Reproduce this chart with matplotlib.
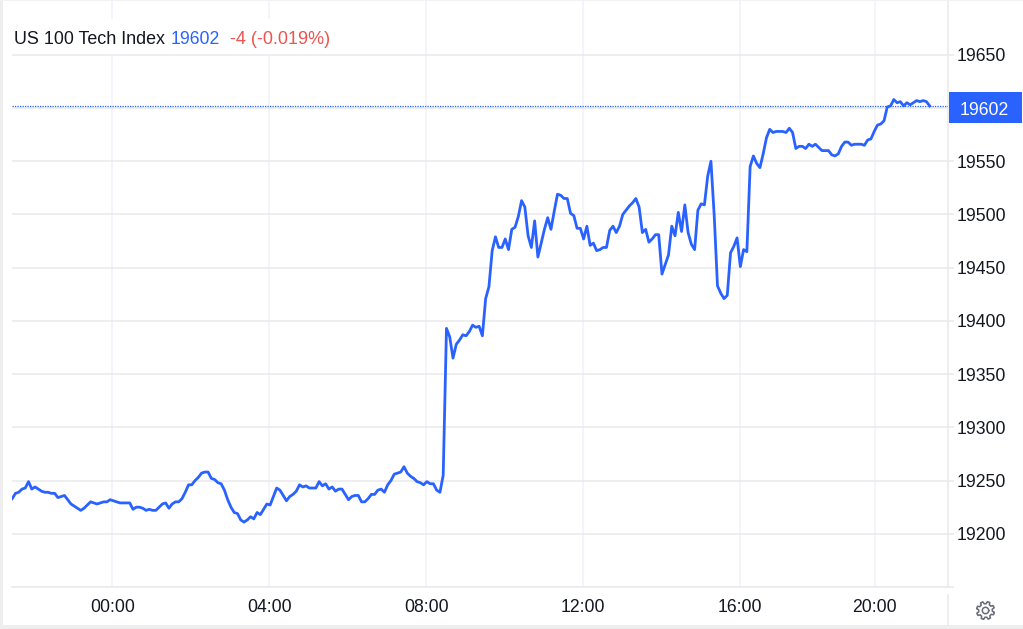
import numpy as np
import matplotlib
matplotlib.use("Agg")
import matplotlib.pyplot as plt
from matplotlib.patches import Rectangle, Polygon

plt.rcParams["font.family"] = ["Liberation Sans", "DejaVu Sans"]

# --------------------------
# DATA (5 minute closes)
# --------------------------
prices = [
    19233, 19238, 19239, 19242, 19243, 19249, 19242, 19244, 19242, 19240,
    19239, 19239, 19238, 19238, 19234, 19235, 19236, 19232, 19228, 19226,
    19224, 19222, 19224, 19227, 19230, 19229, 19228, 19229, 19230, 19230,
    19232, 19231, 19230, 19229, 19229, 19229, 19229, 19223, 19225, 19225,
    19224, 19222, 19223, 19222, 19222, 19225, 19228, 19229, 19224, 19228,
    19230, 19230, 19233, 19239, 19246, 19246, 19250, 19253, 19257, 19258,
    19258, 19252, 19251, 19248, 19247, 19241, 19232, 19225, 19220, 19219,
    19213, 19211, 19213, 19216, 19214, 19220, 19218, 19223, 19228, 19227,
    19235, 19243, 19241, 19236, 19231, 19235, 19237, 19240, 19246, 19244,
    19245, 19243, 19243, 19243, 19249, 19245, 19247, 19242, 19244, 19240,
    19242, 19242, 19237, 19232, 19235, 19236, 19236, 19230, 19230, 19233,
    19237, 19237, 19241, 19242, 19239, 19246, 19250, 19256, 19257, 19258,
    19263, 19257, 19254, 19252, 19249, 19248, 19246, 19249, 19247, 19247,
    19241, 19239, 19255, 19393, 19385, 19365, 19378, 19382, 19387, 19386,
    19390, 19396, 19394, 19395, 19386, 19421, 19432, 19466, 19479, 19469,
    19469, 19477, 19467, 19486, 19488, 19498, 19513, 19507, 19480, 19469,
    19494, 19460, 19473, 19486, 19497, 19486, 19503, 19519, 19518, 19515,
    19515, 19501, 19499, 19487, 19487, 19477, 19489, 19471, 19473, 19466,
    19467, 19469, 19469, 19485, 19489, 19483, 19489, 19500, 19504, 19508,
    19511, 19515, 19507, 19483, 19486, 19474, 19477, 19481, 19481, 19444,
    19453, 19462, 19489, 19480, 19502, 19484, 19509, 19483, 19472, 19467,
    19504, 19510, 19509, 19536, 19550, 19499, 19433, 19426, 19421, 19424,
    19464, 19470, 19478, 19451, 19467, 19465, 19545, 19555, 19548, 19544,
    19557, 19572, 19580, 19577, 19578, 19578, 19578, 19577, 19581, 19577,
    19562, 19564, 19564, 19562, 19566, 19564, 19566, 19563, 19560, 19560,
    19560, 19556, 19555, 19557, 19564, 19568, 19568, 19565, 19566, 19566,
    19566, 19565, 19570, 19571, 19578, 19584, 19585, 19588, 19601, 19602,
    19608, 19605, 19606, 19602, 19605, 19603, 19605, 19607, 19606, 19607,
    19606, 19602,
]
time_labels = ["00:00", "04:00", "08:00", "12:00", "16:00", "20:00"]
time_ticks = [30.66, 78.7, 126.8, 174.8, 222.9, 264.1]
price_ticks = [19150, 19200, 19250, 19300, 19350, 19400, 19450, 19500, 19550, 19600, 19650]
price_labels = ["", "19200", "19250", "19300", "19350", "19400", "19450", "19500", "19550", "", "19650"]
last_price = 19602

W, H = 1023, 629
BLUE = "#2962ff"
INK = "#131722"
HGRID = "#e9e9ec"
VGRID = "#f0f3fa"


def fx(px):
    return px / W


def fy(py):
    return 1 - py / H


fig = plt.figure(figsize=(W / 100, H / 100), dpi=100, facecolor="white")
ax = fig.add_axes([fx(12), fy(587), fx(948) - fx(12), fy(0) - fy(587)])

x = np.arange(len(prices))
ax.plot(x, prices, color=BLUE, lw=2.0, solid_joinstyle="round", zorder=4)
ax.axhline(last_price, color=BLUE, lw=0.9, ls=(0, (1, 1)), zorder=3)

ax.set_xlim(-0.06, 286.6)
ax.set_ylim(19150, 19701.5)

ax.set_xticks(time_ticks, time_labels)
ax.set_yticks(price_ticks, price_labels)
ax.yaxis.tick_right()
ax.grid(axis="x", color=VGRID, lw=1.1, zorder=0)
ax.grid(axis="y", color=HGRID, lw=1.1, zorder=0)
ax.tick_params(axis="y", length=4, width=1.1, color=HGRID, pad=2, labelsize=12.7, labelcolor=INK)
ax.tick_params(axis="x", length=0, pad=9, labelsize=12.7, labelcolor=INK)
for side in ["top", "left"]:
    ax.spines[side].set_visible(False)
ax.spines["bottom"].set_color(HGRID)
ax.spines["bottom"].set_linewidth(1.1)
ax.spines["right"].set_color(HGRID)
ax.spines["right"].set_linewidth(1.1)

# outer frame and bits of the price scale
fig.add_artist(Rectangle((0, 0), fx(2.5), 1, transform=fig.transFigure, color="#eeeeee", lw=0))
fig.add_artist(Rectangle((0, 0), 1, fy(625), transform=fig.transFigure, color="#eeeeee", lw=0))
fig.add_artist(Rectangle((0, fy(1)), 1, 1 - fy(1), transform=fig.transFigure, color="#f2f2f2", lw=0))
fig.add_artist(plt.Line2D([fx(948.3)] * 2, [fy(595), fy(625)], color=HGRID, lw=1.1))

# last price tag
fig.add_artist(Rectangle((fx(949), fy(123)), fx(73), fy(92) - fy(123), transform=fig.transFigure, color=BLUE, lw=0))
fig.text(fx(984.5), fy(115), str(last_price), color="white", fontsize=12.7, ha="center", va="baseline")

# legend line on top
fig.add_artist(Rectangle((fx(12), fy(54)), fx(320), fy(19) - fy(54), transform=fig.transFigure, color="white", lw=0, zorder=1))
fig.text(fx(14.5), fy(43.5), "US 100 Tech Index", color=INK, fontsize=12.9, va="baseline", zorder=5)
fig.text(fx(171), fy(43.5), str(last_price), color=BLUE, fontsize=12.7, va="baseline", zorder=5)
fig.text(fx(230), fy(43.5), "-4 (-0.019%)", color="#ef5350", fontsize=13.0, va="baseline", zorder=5)

# settings gear
ang = np.linspace(0, 2 * np.pi, 65)[:-1]
rad = np.where((np.arange(64) % 8) < 4, 9.0, 6.8)
gx = 985.5 + rad * np.cos(ang + 0.2)
gy = 610.5 + rad * np.sin(ang + 0.2)
fig.add_artist(Polygon(np.column_stack([gx / W, 1 - gy / H]), closed=True, transform=fig.transFigure,
                       facecolor="none", edgecolor="#6a6d78", lw=1.1, joinstyle="round"))
theta = np.linspace(0, 2 * np.pi, 40)
fig.add_artist(plt.Line2D((985.5 + 3.2 * np.cos(theta)) / W, 1 - (610.5 + 3.2 * np.sin(theta)) / H,
                          color="#6a6d78", lw=1.1))

fig.savefig("out.png", dpi=100)
